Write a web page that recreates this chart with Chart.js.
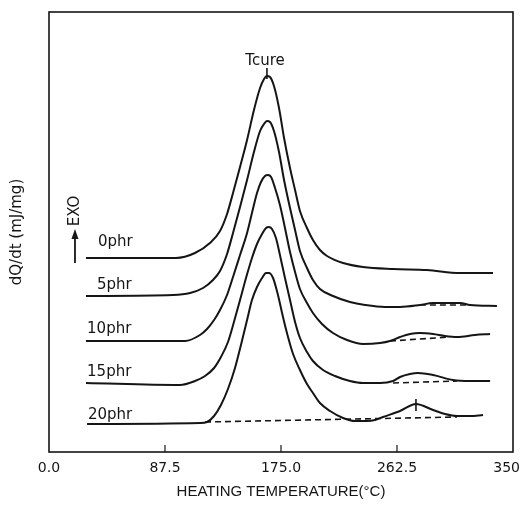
<!DOCTYPE html>
<html>
<head>
<meta charset="utf-8">
<script src="https://cdn.jsdelivr.net/npm/chart.js@4.4.1/dist/chart.umd.min.js"></script>
<style>
  html, body { margin: 0; padding: 0; background: #fff; overflow: hidden; }
  canvas { display: block; }
</style>
</head>
<body>
<canvas id="dsc" width="523" height="507"></canvas>
<script>
// DSC exotherms: heating temperature (°C) vs heat flow (mJ/mg, each trace offset vertically)
const temp0  = [27.9, 95.8, 110.1, 121.4, 129.0, 134.3, 138.8, 144.1, 149.4, 154.6, 159.2, 162.2, 164.4, 166.7, 169.7, 173.5, 177.3, 181.8, 185.6, 189.3, 194.6, 199.1, 204.4, 209.7, 221.8, 236.9, 259.5, 285.1, 310.0, 334.9];
const flow0  = [19.4, 19.4, 19.9, 20.9, 22.1, 23.8, 25.9, 28.5, 31.2, 34.2, 36.4, 37.3, 37.6, 37.5, 36.6, 34.4, 31.4, 28.4, 26.2, 24.1, 22.4, 21.2, 20.2, 19.6, 18.9, 18.5, 18.3, 18.2, 17.9, 17.9];

const temp5  = [27.9, 93.5, 106.4, 116.2, 123.7, 129.0, 134.3, 138.8, 144.1, 149.4, 154.6, 159.2, 162.2, 164.4, 166.7, 169.7, 173.5, 177.3, 181.8, 185.6, 189.3, 194.6, 199.1, 204.4, 214.2, 227.0, 238.4, 253.4, 264.8, 279.8, 289.7, 310.0, 317.6, 337.9];
const flow5  = [15.6, 15.7, 15.9, 16.4, 17.2, 18.1, 19.8, 21.9, 24.5, 27.2, 30.0, 32.1, 32.8, 33.1, 33.0, 32.1, 30.0, 27.2, 24.4, 22.2, 20.1, 18.4, 17.2, 16.3, 15.6, 15.0, 14.7, 14.5, 14.5, 14.7, 14.9, 14.9, 14.7, 14.6];

const temp10 = [27.9, 102.6, 113.9, 119.2, 124.5, 129.0, 134.3, 138.8, 144.1, 149.4, 153.1, 156.9, 159.9, 162.9, 165.2, 167.5, 170.5, 174.2, 178.0, 181.8, 185.6, 189.3, 194.6, 199.1, 205.9, 214.2, 224.8, 236.9, 249.7, 257.2, 264.8, 272.3, 279.8, 289.7, 298.7, 307.8, 321.3, 332.7];
const flow10 = [11.1, 11.1, 11.7, 12.3, 13.2, 14.2, 15.7, 17.5, 19.7, 21.9, 23.9, 25.9, 27.0, 27.6, 27.7, 27.5, 26.4, 24.7, 22.4, 20.0, 18.0, 16.3, 14.9, 13.9, 12.8, 11.9, 11.2, 10.8, 10.9, 11.1, 11.5, 11.8, 11.9, 11.8, 11.6, 11.5, 11.7, 11.8];

const temp15 = [27.9, 98.8, 110.1, 117.7, 124.5, 129.7, 135.0, 139.5, 144.1, 148.6, 153.1, 156.9, 160.7, 163.7, 165.9, 168.2, 171.2, 174.2, 178.0, 181.8, 185.6, 189.3, 194.6, 199.1, 206.7, 215.7, 227.0, 236.9, 249.7, 259.5, 264.8, 272.3, 278.3, 289.7, 304.7, 317.6, 332.7];
const flow15 = [6.9, 6.7, 7.1, 7.6, 8.4, 9.5, 11.0, 13.0, 15.2, 17.4, 19.4, 20.8, 21.8, 22.4, 22.5, 22.3, 21.4, 19.7, 17.4, 15.2, 13.0, 11.4, 10.0, 9.1, 8.2, 7.6, 7.1, 6.9, 6.9, 7.1, 7.5, 7.8, 7.9, 7.7, 7.2, 7.1, 7.1];

const temp20 = [28.7, 113.9, 119.2, 124.5, 129.7, 135.0, 140.3, 144.8, 149.4, 153.1, 156.9, 160.7, 163.7, 165.9, 169.0, 172.7, 176.5, 180.3, 184.1, 189.3, 194.6, 199.1, 204.4, 212.0, 221.8, 230.8, 239.9, 245.9, 251.9, 264.8, 276.8, 289.7, 298.7, 307.8, 317.6, 327.4];
const flow20 = [2.8, 2.9, 3.0, 3.6, 4.7, 6.3, 8.4, 10.7, 13.2, 15.2, 16.5, 17.4, 17.9, 17.9, 17.4, 15.7, 13.5, 11.5, 9.8, 8.2, 6.8, 5.9, 4.9, 4.1, 3.4, 3.1, 3.1, 3.2, 3.5, 4.1, 4.8, 4.2, 3.8, 3.6, 3.6, 3.7];

// Construction baselines under the second (high-temperature) exotherm
const base5T  = [279.8, 317.6]; const base5Q  = [14.7, 14.7];
const base10T = [257.2, 302.5]; const base10Q = [11.1, 11.5];
const base15T = [259.5, 307.8]; const base15Q = [6.9, 7.1];
const base20T = [117.7, 307.8]; const base20Q = [3.0, 3.5];

// Peak markers: Tcure on the top trace, second peak on the 20phr trace
const tcureT = [164.4, 164.4]; const tcureQ = [37.3, 38.4];
const peak2T = [276.8, 276.8]; const peak2Q = [4.1, 5.3];

const traceNames = ['0phr', '5phr', '10phr', '15phr', '20phr'];
const xTickValues = [0, 87.5, 175, 262.5, 350];
const xTickLabels = ['0.0', '87.5', '175.0', '262.5', '350'];

// Text anchors (data units)
const nameT = [37.0, 36.2, 28.7, 28.7, 29.4];
const nameQ = [21.0, 16.7, 12.3, 8.0, 3.7];
const tcureLabel = { text: 'Tcure', t: 163.0, q: 38.7 };
const exo = { text: 'EXO', t: 19.6, q: 24.1, arrowFrom: 18.9, arrowTo: 22.3 };

const ink = '#151515';
const pts = (t, q) => t.map((v, i) => ({ x: v, y: q[i] }));

const curves = [[temp0, flow0], [temp5, flow5], [temp10, flow10], [temp15, flow15], [temp20, flow20]]
  .map(([t, q], i) => ({
    label: traceNames[i],
    data: pts(t, q),
    borderColor: ink,
    borderWidth: 2,
    pointRadius: 0,
    fill: false,
    cubicInterpolationMode: 'monotone'
  }));

const baselines = [[base5T, base5Q], [base10T, base10Q], [base15T, base15Q], [base20T, base20Q]]
  .map(([t, q]) => ({
    data: pts(t, q),
    borderColor: ink,
    borderWidth: 1.6,
    borderDash: [6, 4],
    pointRadius: 0,
    fill: false
  }));

const markers = [[tcureT, tcureQ], [peak2T, peak2Q]].map(([t, q]) => ({
  data: pts(t, q),
  borderColor: ink,
  borderWidth: 1.6,
  pointRadius: 0,
  fill: false
}));

const decorations = {
  id: 'decorations',
  afterDatasetsDraw(chart) {
    const { ctx, chartArea: a, scales: { x, y } } = chart;
    ctx.save();
    ctx.strokeStyle = ink;
    ctx.fillStyle = ink;

    // plot frame
    ctx.lineWidth = 1.6;
    ctx.strokeRect(a.left, a.top, a.right - a.left, a.bottom - a.top);

    // inward tick marks on the temperature axis
    ctx.lineWidth = 1.2;
    xTickValues.slice(1, -1).forEach(v => {
      const px = x.getPixelForValue(v);
      ctx.beginPath();
      ctx.moveTo(px, a.bottom);
      ctx.lineTo(px, a.bottom - 7);
      ctx.stroke();
    });

    // temperature tick labels
    ctx.font = '14px "DejaVu Sans"';
    ctx.textAlign = 'center';
    ctx.textBaseline = 'middle';
    xTickValues.forEach((v, i) => {
      const w = ctx.measureText(xTickLabels[i]).width;
      const px = Math.min(x.getPixelForValue(v), chart.width - 3 - w / 2);
      ctx.fillText(xTickLabels[i], px, a.bottom + 16);
    });

    // trace names
    ctx.font = '15px "DejaVu Sans"';
    ctx.textAlign = 'left';
    traceNames.forEach((n, i) => {
      ctx.fillText(n, x.getPixelForValue(nameT[i]), y.getPixelForValue(nameQ[i]));
    });

    // Tcure
    ctx.textAlign = 'center';
    ctx.textBaseline = 'alphabetic';
    ctx.fillText(tcureLabel.text, x.getPixelForValue(tcureLabel.t), y.getPixelForValue(tcureLabel.q));

    // EXO arrow
    const ax = x.getPixelForValue(exo.t);
    const y0 = y.getPixelForValue(exo.arrowFrom);
    const y1 = y.getPixelForValue(exo.arrowTo);
    ctx.lineWidth = 1.8;
    ctx.beginPath();
    ctx.moveTo(ax, y0);
    ctx.lineTo(ax, y1 + 6);
    ctx.stroke();
    ctx.beginPath();
    ctx.moveTo(ax, y1);
    ctx.lineTo(ax - 3.5, y1 + 10);
    ctx.lineTo(ax + 3.5, y1 + 10);
    ctx.closePath();
    ctx.fill();

    ctx.save();
    ctx.translate(ax, y.getPixelForValue(exo.q));
    ctx.rotate(-Math.PI / 2);
    ctx.font = '15px "DejaVu Sans"';
    ctx.textAlign = 'center';
    ctx.textBaseline = 'middle';
    ctx.fillText(exo.text, 0, 0);
    ctx.restore();

    ctx.restore();
  }
};

new Chart(document.getElementById('dsc'), {
  type: 'line',
  data: { datasets: [...curves, ...baselines, ...markers] },
  options: {
    responsive: false,
    animation: false,
    events: [],
    layout: { autoPadding: false, padding: { left: 4, top: 12, right: 10, bottom: 6 } },
    plugins: { legend: { display: false }, tooltip: { enabled: false } },
    scales: {
      x: {
        type: 'linear',
        min: 0,
        max: 350,
        afterBuildTicks: s => { s.ticks = xTickValues.map(v => ({ value: v })); },
        ticks: { display: false },
        grid: { display: false, drawTicks: false },
        border: { display: false },
        title: {
          display: true,
          text: 'HEATING TEMPERATURE(°C)',
          color: ink,
          font: { family: 'Liberation Sans', size: 15 },
          padding: { top: 31, bottom: 0 }
        }
      },
      y: {
        type: 'linear',
        min: 0,
        max: 44,
        ticks: { display: false },
        grid: { display: false, drawTicks: false },
        border: { display: false },
        title: {
          display: true,
          text: 'dQ/dt (mJ/mg)',
          color: ink,
          font: { family: 'DejaVu Sans', size: 15 },
          padding: { top: 4, bottom: 23 }
        }
      }
    }
  },
  plugins: [decorations]
});
</script>
</body>
</html>
